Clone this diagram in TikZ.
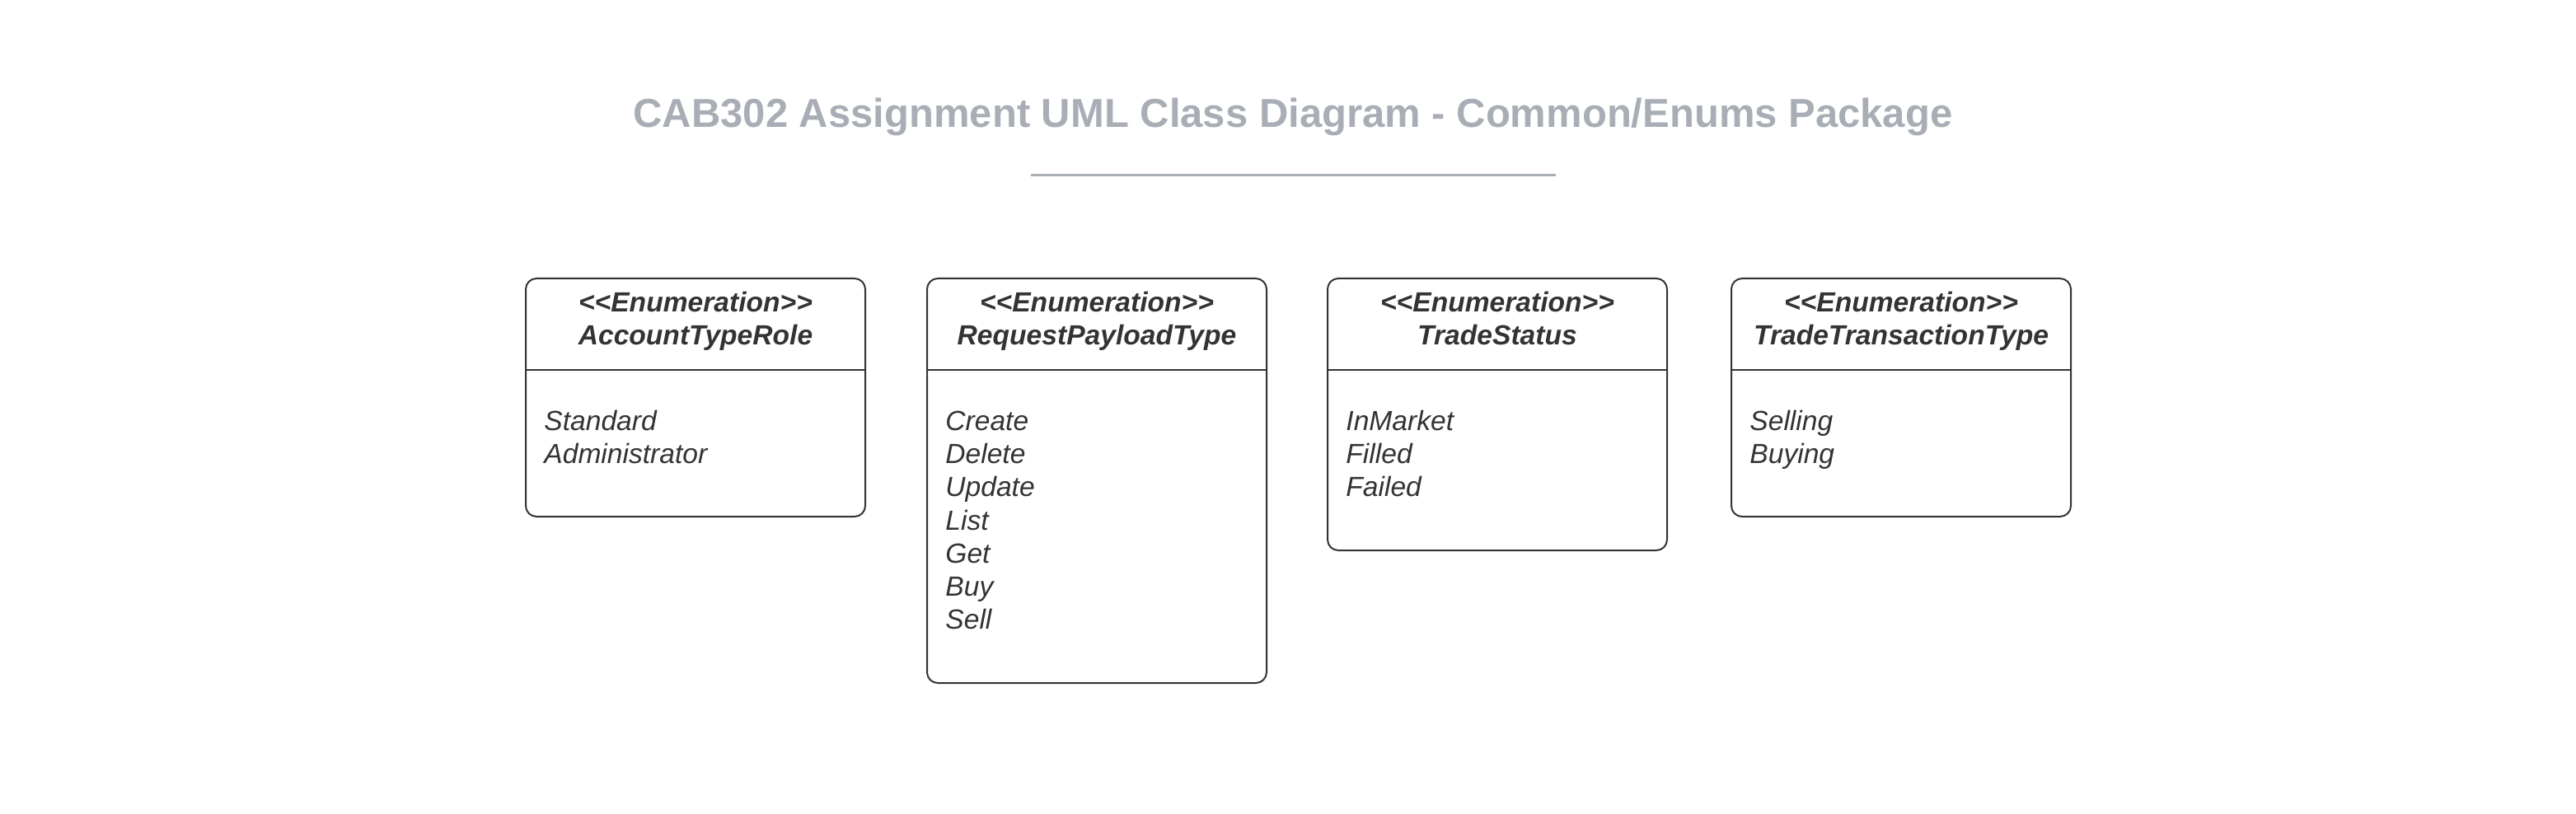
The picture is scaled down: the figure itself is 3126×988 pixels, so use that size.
\documentclass[tikz,border=0pt]{standalone}
\usepackage{fontspec}
\setmainfont{Liberation Sans}
\usetikzlibrary{positioning}
\definecolor{inkgray}{HTML}{333333}
\definecolor{titlegray}{HTML}{A9AEB6}
\newcommand\stereo[1]{<\kern0pt<#1>\kern0pt>}

\tikzset{
  enumbox/.style={draw=inkgray, line width=1pt, rounded corners=6.5pt, minimum width=206pt, inner sep=0pt, anchor=north west},
  enumhead/.style={text=inkgray, font=\fontsize{16.8}{20}\selectfont\bfseries\itshape, anchor=base, inner sep=0pt},
  enumitem/.style={text=inkgray, font=\fontsize{16.8}{20}\selectfont\itshape, anchor=base west, inner sep=0pt},
  titletext/.style={text=titlegray, font=\fontsize{24.5}{30}\selectfont\bfseries, anchor=base, inner sep=0pt}
}

\begin{document}
\begin{tikzpicture}[x=0.5pt,y=-0.5pt]
		\useasboundingbox (0,0) rectangle (3126,988);
		% title and rule
		\node[titletext] (title) at (1569,155) {CAB302 Assignment UML Class Diagram - Common/Enums Package};
		\coordinate (rule left) at (1251,213);
		\coordinate (rule right) at (1888,213);
		\draw[titlegray, line width=1.5pt] (rule left) -- (rule right);

		% enumeration boxes
		\node[enumbox, minimum height=144.5pt] (acct) at (637,337) {};
		\node[enumbox, minimum height=245.5pt] (payload) at (1124,337) {};
		\node[enumbox, minimum height=165pt] (status) at (1610,337) {};
		\node[enumbox, minimum height=144.5pt] (trans) at (2100,337) {};

		\foreach \b in {acct,payload,status,trans}
		\draw[inkgray, line width=1pt] ([yshift=-56pt]\b.north west) -- ([yshift=-56pt]\b.north east);

		\node[enumhead] (acct stereo) at ([yshift=-21pt]acct.north) {\stereo{Enumeration}};
		\node[enumhead] (acct name) at ([yshift=-41pt]acct.north) {AccountTypeRole};
		\node[enumhead] (payload stereo) at ([yshift=-21pt]payload.north) {\stereo{Enumeration}};
		\node[enumhead] (payload name) at ([yshift=-41pt]payload.north) {RequestPayloadType};
		\node[enumhead] (status stereo) at ([yshift=-21pt]status.north) {\stereo{Enumeration}};
		\node[enumhead] (status name) at ([yshift=-41pt]status.north) {TradeStatus};
		\node[enumhead] (trans stereo) at ([yshift=-21pt]trans.north) {\stereo{Enumeration}};
		\node[enumhead] (trans name) at ([yshift=-41pt]trans.north) {TradeTransactionType};

		% literals
		\foreach \lbl [count=\i] in {Standard,Administrator}
		\node[enumitem] (acct-\i) at ([xshift=11.5pt,yshift=-93pt-(\i-1)*20pt]acct.north west) {\lbl};
		\foreach \lbl [count=\i] in {Create,Delete,Update,List,Get,Buy,Sell}
		\node[enumitem] (payload-\i) at ([xshift=11.5pt,yshift=-93pt-(\i-1)*20pt]payload.north west) {\lbl};
		\foreach \lbl [count=\i] in {InMarket,Filled,Failed}
		\node[enumitem] (status-\i) at ([xshift=11.5pt,yshift=-93pt-(\i-1)*20pt]status.north west) {\lbl};
		\foreach \lbl [count=\i] in {Selling,Buying}
		\node[enumitem] (trans-\i) at ([xshift=11.5pt,yshift=-93pt-(\i-1)*20pt]trans.north west) {\lbl};
	    \end{tikzpicture}
\end{document}
